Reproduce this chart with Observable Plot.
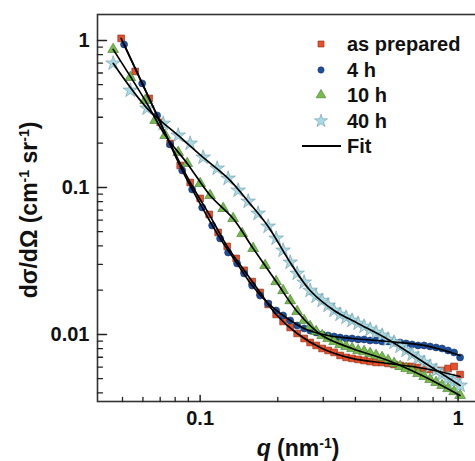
<!DOCTYPE html>
<html><head><meta charset="utf-8">
<script src="https://cdn.jsdelivr.net/npm/d3@7"></script>
<script src="https://cdn.jsdelivr.net/npm/@observablehq/plot@0.6"></script>
<style>
html,body{margin:0;padding:0;background:#fff;overflow:hidden;}
#chart{width:475px;height:461px;overflow:hidden;}
</style></head><body><div id="chart"></div>
<script>
// ---- data ----
const seriesNames = ["as prepared", "4 h", "10 h", "40 h"];

const qRed = [0.0494,0.0560,0.0634,0.0700,0.0765,0.0837,0.0915,0.1000,0.1084,0.1174,0.1273,0.1379,0.1481,0.1591,0.1708,0.1835,0.1971,
  0.2097,0.2234,0.2377,0.2530,0.2669,0.2816,0.2971,0.3134,0.3306,0.3488,0.3680,0.3882,0.4096,0.4321,0.4559,0.4810,0.5074,0.5354,0.5648,0.5959,0.6287,0.6633,0.6998,0.7383,0.7789,0.8217,0.8670,0.9146,0.9650,1.018];
const iRed = [1.032,0.615,0.403,0.277,0.199,0.141,0.108,0.0842,0.0655,0.0494,0.0397,0.0329,0.0273,0.0229,0.0193,0.0160,0.01368,
  0.01226,0.01116,0.01016,0.00939,0.00882,0.00842,0.00803,0.00778,0.00755,0.00720,0.00698,0.00687,0.00676,0.00665,0.00655,0.00645,0.00645,0.00635,0.00625,0.00615,0.00606,0.00606,0.00596,0.00587,0.00578,0.00569,0.00569,0.00587,0.00606,0.00534];

const qBlue = [0.0507,0.0596,0.0681,0.0765,0.0852,0.0931,0.1018,0.1113,0.1195,0.1284,0.1391,0.1481,0.1591,0.1708,0.1835,0.1971,
  0.2097,0.2234,0.2377,0.2530,0.2669,0.2816,0.2971,0.3134,0.3306,0.3488,0.3680,0.3882,0.4096,0.4321,0.4559,0.4810,0.5074,0.5354,0.5648,0.5959,0.6287,0.6633,0.6998,0.7383,0.7789,0.8217,0.8670,0.9146,0.9650,1.018];
const iBlue = [0.939,0.510,0.309,0.196,0.1305,0.0969,0.0731,0.0551,0.0450,0.0361,0.0304,0.0260,0.0215,0.0184,0.01625,0.01456,
  0.01347,0.01245,0.01151,0.01099,0.01064,0.01032,0.0100,0.00984,0.00969,0.00954,0.00939,0.00939,0.00925,0.00925,0.00910,0.00910,0.00896,0.00896,0.00882,0.00882,0.00869,0.00855,0.00842,0.00842,0.00829,0.00816,0.00803,0.00778,0.00755,0.00698];

const qGreen = [0.0460,0.0536,0.0612,0.0669,0.0732,0.0822,0.0891,0.1000,0.1093,0.1228,0.1342,0.1455,0.1605,0.1786,0.1971,
  0.2097,0.2234,0.2377,0.2530,0.2669,0.2816,0.2971,0.3134,0.3306,0.3488,0.3680,0.3882,0.4096,0.4321,0.4559,0.4810,0.5074,0.5354,0.5648,0.5959,0.6287,0.6633,0.6998,0.7383,0.7789,0.8217,0.8670,0.9146,0.9650,1.018];
const iGreen = [0.869,0.560,0.391,0.286,0.226,0.173,0.1457,0.1064,0.0882,0.0720,0.0615,0.0486,0.0385,0.0295,0.0229,
  0.0199,0.0170,0.01434,0.01245,0.01133,0.01048,0.00984,0.00939,0.00896,0.00855,0.00829,0.00803,0.00778,0.00766,0.00743,0.00720,0.00698,0.00665,0.00635,0.00606,0.00587,0.00569,0.00543,0.00518,0.00494,0.00472,0.00450,0.00429,0.00409,0.00385];

const qStar = [0.0460,0.0536,0.0623,0.0719,0.0822,0.0915,0.1027,0.1164,0.1284,0.1404,0.1535,0.1678,0.1835,0.1971,
  0.2097,0.2234,0.2377,0.2530,0.2669,0.2816,0.2971,0.3134,0.3306,0.3488,0.3680,0.3882,0.4096,0.4321,0.4559,0.4810,0.5074,0.5354,0.5648,0.5959,0.6287,0.6633,0.6998,0.7383,0.7789,0.8217,0.8670,0.9146,0.9650,1.018];
const iStar = [0.698,0.457,0.345,0.272,0.226,0.199,0.160,0.1347,0.1151,0.0954,0.0803,0.0665,0.0543,0.0450,
  0.0373,0.0309,0.0260,0.0226,0.0199,0.01813,0.0170,0.01575,0.01456,0.01368,0.01305,0.01245,0.01188,0.01133,0.01081,0.01032,0.00984,0.00925,0.00882,0.00829,0.00778,0.00731,0.00687,0.00645,0.00606,0.00569,0.00534,0.00502,0.00479,0.00450];

// fit curves
const fitQRed = [0.0494,0.0634,0.0765,0.0915,0.1084,0.1273,0.1481,0.1708,0.1971,0.2377,0.2971,0.3882,0.5354,0.7383,1.018];
const fitIRed = [1.032,0.403,0.199,0.108,0.0655,0.0397,0.0273,0.0193,0.01368,0.01016,0.00803,0.00687,0.00635,0.00587,0.00518];
const fitQBlue = [0.0507,0.0681,0.0852,0.1018,0.1195,0.1391,0.1591,0.1835,0.2097,0.2530,0.3134,0.3882,0.5354,0.7383,1.018];
const fitIBlue = [0.939,0.309,0.1305,0.0731,0.0450,0.0304,0.0215,0.01625,0.01347,0.01099,0.00984,0.00939,0.00896,0.00842,0.0072];
const fitQGreen = [0.0460,0.0612,0.0732,0.0891,0.1093,0.1342,0.1605,0.1971,0.2377,0.2971,0.3882,0.5354,0.7383,1.018];
const fitIGreen = [0.869,0.391,0.226,0.1457,0.0882,0.0615,0.0385,0.0229,0.01434,0.00984,0.00803,0.00665,0.00518,0.00385];
const fitQStar = [0.0460,0.0623,0.0822,0.1027,0.1284,0.1535,0.1835,0.2234,0.2669,0.3306,0.4096,0.5354,0.7383,1.018];
const fitIStar = [0.698,0.345,0.226,0.160,0.1151,0.0803,0.0543,0.0309,0.0199,0.01456,0.01188,0.00925,0.00645,0.00450];

// ticks
const xMajor = [0.1, 1];
const xMinor = [0.05,0.06,0.07,0.08,0.09,0.2,0.3,0.4,0.5,0.6,0.7,0.8,0.9];
const yMajor = [0.01, 0.1, 1];
const yMinor = [0.004,0.005,0.006,0.007,0.008,0.009,0.02,0.03,0.04,0.05,0.06,0.07,0.08,0.09,0.2,0.3,0.4,0.5,0.6,0.7,0.8,0.9];

// ---- styles ----
const styles = [
  {symbol: "square",   r: 3.8, fill: "#e8502b", stroke: "#8a2a12"},
  {symbol: "circle",   r: 3.5, fill: "#1d4f9e", stroke: "#16366b"},
  {symbol: "triangle", r: 4.0, fill: "#76bb4c", stroke: "#3f7a2a"},
  {symbol: "star",     r: 4.6, fill: "#a9dbe6", stroke: "#6f98a3"}
];
const FONT = "'Liberation Sans', Arial, Helvetica, sans-serif";

const rows = (q, I) => q.map((d, i) => ({q: d, I: I[i]}));
const dataSets = [rows(qRed, iRed), rows(qBlue, iBlue), rows(qGreen, iGreen), rows(qStar, iStar)];
const fitSets = [rows(fitQRed, fitIRed), rows(fitQBlue, fitIBlue), rows(fitQGreen, fitIGreen), rows(fitQStar, fitIStar)];

const tickShape = {draw(ctx, l) { ctx.moveTo(0, 0); ctx.lineTo(0, -l); }};

const plot = Plot.plot({
  width: 475, height: 461,
  marginLeft: 97, marginTop: 14, marginBottom: 60, marginRight: -28,
  style: {fontFamily: FONT, background: "#fff", color: "#111"},
  x: {type: "log", domain: [0.04, 1.5]},
  y: {type: "log", domain: [0.0035, 1.5]},
  marks: [
    ...dataSets.map((d, k) => Plot.dot(d, {x: "q", y: "I", symbol: () => styles[k].symbol, r: styles[k].r,
        fill: styles[k].fill, stroke: styles[k].stroke, strokeWidth: 0.6})),
    ...fitSets.map(d => Plot.line(d, {x: "q", y: "I", stroke: "#000", strokeWidth: 1.7, curve: "catmull-rom"})),
    Plot.frame({stroke: "#333", strokeWidth: 1.6}),
    Plot.vector(yMajor, {y: d => d, frameAnchor: "left", rotate: 90, length: 9, anchor: "start", shape: tickShape, stroke: "#222", strokeWidth: 1.5}),
    Plot.vector(yMinor, {y: d => d, frameAnchor: "left", rotate: 90, length: 5, anchor: "start", shape: tickShape, stroke: "#222", strokeWidth: 1.3}),
    Plot.vector(xMajor, {x: d => d, frameAnchor: "bottom", rotate: 0, length: 6, anchor: "start", shape: tickShape, stroke: "#222", strokeWidth: 1.5}),
    Plot.vector(xMinor, {x: d => d, frameAnchor: "bottom", rotate: 0, length: 4, anchor: "start", shape: tickShape, stroke: "#222", strokeWidth: 1.3}),
    Plot.axisY({ticks: yMajor, tickFormat: d => String(d), tickSize: 0, tickPadding: 8, fontSize: 20, fontWeight: "bold", label: null}),
    Plot.axisX({ticks: xMajor, tickFormat: d => String(d), tickSize: 0, tickPadding: 9, fontSize: 20, fontWeight: "bold", label: null})
  ]
});
document.getElementById("chart").appendChild(plot);

// ---- axis titles and legend ----
const svg = d3.select(plot);
const ty = svg.append("text").attr("transform", "translate(37,210) rotate(-90)")
  .attr("text-anchor", "middle").attr("font-family", FONT).attr("font-size", 23).attr("font-weight", "bold").attr("fill", "#111");
ty.append("tspan").text("dσ/dΩ (cm");
ty.append("tspan").attr("dy", -8).attr("font-size", 14).text("-1");
ty.append("tspan").attr("dy", 8).text(" sr");
ty.append("tspan").attr("dy", -8).attr("font-size", 14).text("-1");
ty.append("tspan").attr("dy", 8).text(")");

const tx = svg.append("text").attr("x", 298).attr("y", 456)
  .attr("text-anchor", "middle").attr("font-family", FONT).attr("font-size", 23).attr("font-weight", "bold").attr("fill", "#111");
tx.append("tspan").attr("font-style", "italic").text("q");
tx.append("tspan").text(" (nm");
tx.append("tspan").attr("dy", -8).attr("font-size", 14).text("-1");
tx.append("tspan").attr("dy", 8).text(")");

const symMap = {square: d3.symbolSquare, circle: d3.symbolCircle, triangle: d3.symbolTriangle, star: d3.symbolStar};
const lg = svg.append("g").attr("font-family", FONT).attr("font-size", 20).attr("font-weight", "bold")
  .attr("fill", "#111").attr("text-anchor", "start");
const rowY = [44, 70, 95, 121, 146];
seriesNames.forEach((name, k) => {
  const s = styles[k];
  lg.append("path").attr("transform", `translate(321,${rowY[k]})`)
    .attr("d", d3.symbol(symMap[s.symbol], Math.PI * s.r * s.r * 0.8)())
    .attr("fill", s.fill).attr("stroke", s.stroke).attr("stroke-width", 0.6);
  lg.append("text").attr("x", 347).attr("y", rowY[k] + 7).attr("text-anchor", "start").text(name);
});
lg.append("line").attr("x1", 302).attr("x2", 341).attr("y1", rowY[4]).attr("y2", rowY[4]).attr("stroke", "#000").attr("stroke-width", 1.8);
lg.append("text").attr("x", 347).attr("y", rowY[4] + 7).attr("text-anchor", "start").text("Fit");
</script></body></html>
